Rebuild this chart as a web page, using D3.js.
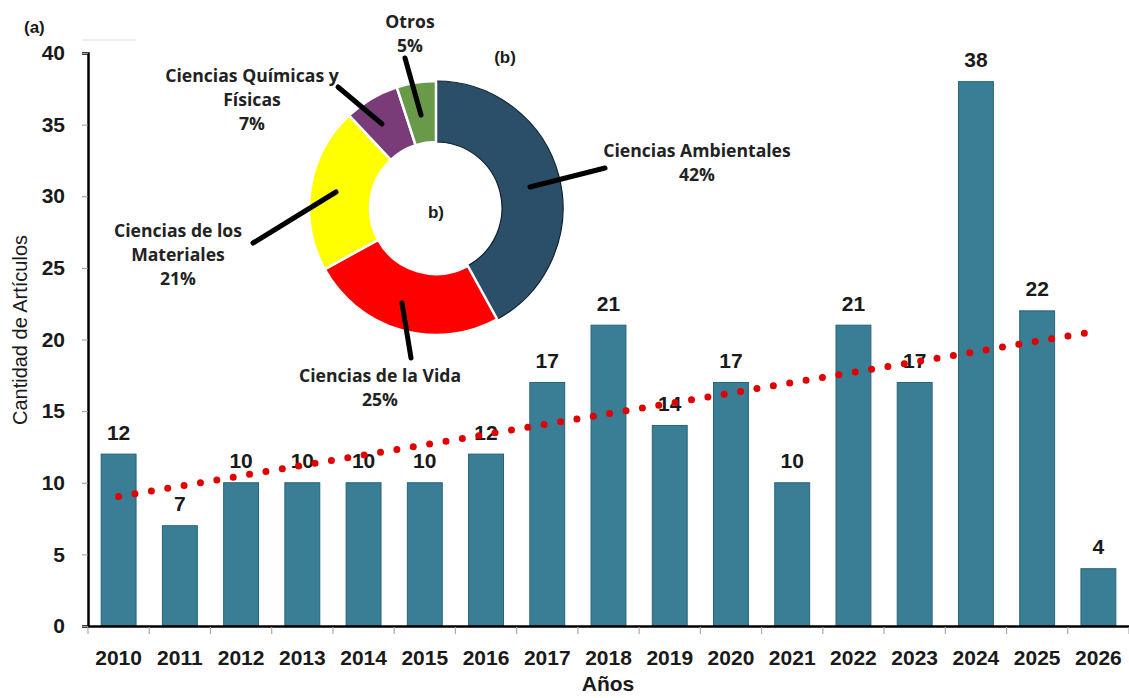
<!DOCTYPE html>
<html><head><meta charset="utf-8">
<script src="https://cdn.jsdelivr.net/npm/d3@7"></script>
<style>body{margin:0;background:#fff}svg{display:block}</style>
</head><body><svg id="c" width="1129" height="698" font-family="Liberation Sans, Arial, sans-serif" font-weight="bold" fill="#1a1a1a"></svg>
<script>
const years = ["2010","2011","2012","2013","2014","2015","2016","2017","2018","2019","2020","2021","2022","2023","2024","2025","2026"];
const counts = [12,7,10,10,10,10,12,17,21,14,17,10,21,17,38,22,4];
const yTicks = [0,5,10,15,20,25,30,35,40];
const trendStart = 9.04, trendEnd = 20.6;
const areas = ["Ciencias Ambientales","Ciencias de la Vida","Ciencias de los Materiales","Ciencias Químicas y Físicas","Otros"];
const shares = [42,25,21,7,5];
const areaColors = ["#2c4f69","#ff0000","#ffff00","#7a3b79","#689a4a"];

const svg = d3.select("#c");
const x = d3.scaleBand().domain(years).range([88,1129]).paddingInner(0.43).paddingOuter(0.215);
const y = d3.scaleLinear().domain([0,40]).range([626,53]);
const F = "Liberation Sans, Arial, sans-serif";

// bars
svg.append("g").selectAll("rect").data(counts).join("rect")
  .attr("x",(d,i)=>x(years[i])).attr("width",x.bandwidth())
  .attr("y",d=>y(d)).attr("height",d=>y(0)-y(d))
  .attr("fill","#3a7e95").attr("stroke","#26647a").attr("stroke-width",1);

// value labels
svg.append("g").selectAll("text").data(counts).join("text")
  .attr("x",(d,i)=>x(years[i])+x.bandwidth()/2).attr("y",d=>y(d)-14.5)
  .attr("text-anchor","middle").attr("font-size",21).attr("fill","#1a1a1a").text(d=>d);

// y axis
const ya = svg.append("g").attr("transform","translate(88,0)")
  .call(d3.axisLeft(y).tickValues(yTicks).tickSize(6).tickPadding(17));
ya.select(".domain").attr("stroke","#000").attr("stroke-width",2.5);
ya.selectAll(".tick line").attr("stroke","#999");
ya.selectAll(".tick text").attr("font-size",21).attr("font-family",F).attr("font-weight","bold").attr("fill","#1a1a1a");

// x axis
const xa = svg.append("g").attr("transform","translate(0,626)")
  .call(d3.axisBottom(x).tickSize(0).tickPadding(24));
xa.select(".domain").attr("stroke","#000").attr("stroke-width",2.5);
xa.selectAll(".tick text").attr("font-size",21).attr("font-family",F).attr("font-weight","bold").attr("fill","#1a1a1a");
// boundary ticks
const bounds = years.map(d=>x(d)-x.step()*x.paddingInner()/2).concat([x(years[years.length-1])+x.bandwidth()+x.step()*x.paddingInner()/2]);
svg.append("g").selectAll("line").data(bounds).join("line")
  .attr("x1",d=>d).attr("x2",d=>d).attr("y1",627).attr("y2",634).attr("stroke","#aaa").attr("stroke-width",1.2);

// trend
const c0 = x(years[0])+x.bandwidth()/2, c1 = x(years[years.length-1])+x.bandwidth()/2;
svg.append("line").attr("x1",c0).attr("y1",y(trendStart)).attr("x2",c1).attr("y2",y(trendEnd))
  .attr("stroke","#e00000").attr("stroke-width",7).attr("stroke-linecap","round").attr("stroke-dasharray","0 16.6");

// axis titles
svg.append("text").attr("x",608).attr("y",691).attr("text-anchor","middle").attr("font-size",21).text("Años");
svg.append("text").attr("transform","translate(27,330) rotate(-90)").attr("text-anchor","middle").attr("font-size",20).attr("font-weight","normal").attr("fill","#1a1a1a").text("Cantidad de Artículos");
svg.append("text").attr("x",24).attr("y",33).attr("font-size",17).text("(a)");
svg.append("line").attr("x1",82).attr("x2",136).attr("y1",40).attr("y2",40).attr("stroke","#ddd");

// donut
const cx = 436, cy = 208;
const pie = d3.pie().sort(null).value(d=>d)(shares);
const arc = d3.arc().innerRadius(66).outerRadius(127);
const dg = svg.append("g").attr("transform",`translate(${cx},${cy})`);
dg.selectAll("path").data(pie).join("path").attr("d",arc)
  .attr("fill",(d,i)=>areaColors[i]).attr("stroke",(d,i)=>i===0?"#0f2233":"#fff").attr("stroke-width",(d,i)=>i===0?1.2:2.5);
dg.append("text").attr("x",0).attr("y",10).attr("text-anchor","middle").attr("font-size",17).text("b)");
svg.append("text").attr("x",505).attr("y",63).attr("text-anchor","middle").attr("font-size",17).text("(b)");

// leader lines (from label side to inside slice)
const leaders = [
  [[605,168],[530,187]],
  [[402,303],[411,358]],
  [[253,243],[336,192]],
  [[338,87],[382,124]],
  [[405,58],[421,115]]
];
svg.append("g").selectAll("line").data(leaders).join("line")
  .attr("x1",d=>d[0][0]).attr("y1",d=>d[0][1]).attr("x2",d=>d[1][0]).attr("y2",d=>d[1][1])
  .attr("stroke","#000").attr("stroke-width",5).attr("stroke-linecap","round");

const labelLines = [
  {x:697,y:157,lines:["Ciencias Ambientales",shares[0]+"%"]},
  {x:380,y:382,lines:["Ciencias de la Vida",shares[1]+"%"]},
  {x:178,y:237,lines:["Ciencias de los","Materiales",shares[2]+"%"]},
  {x:252,y:82,lines:["Ciencias Químicas y","Físicas",shares[3]+"%"]},
  {x:410,y:28,lines:["Otros",shares[4]+"%"]}
];
labelLines.forEach(l=>{
  const t = svg.append("text").attr("text-anchor","middle").attr("font-size",17.6)
    .attr("font-family","Open Sans, sans-serif").attr("font-weight",700).attr("fill","#222");
  l.lines.forEach((s,i)=>t.append("tspan").attr("x",l.x).attr("y",l.y+i*24).text(s));
});
</script></body></html>
